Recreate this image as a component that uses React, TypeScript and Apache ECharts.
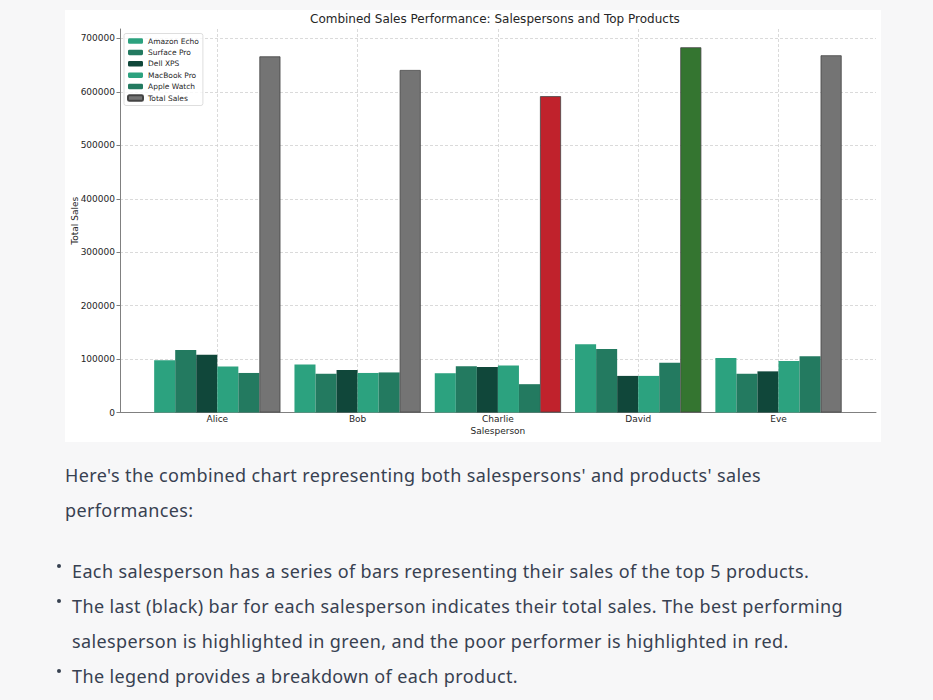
import React, { useEffect, useRef } from "react";
import * as echarts from "echarts";

const TITLE = "Combined Sales Performance: Salespersons and Top Products";
const salespersons = ["Alice", "Bob", "Charlie", "David", "Eve"];
const products = ["Amazon Echo", "Surface Pro", "Dell XPS", "MacBook Pro", "Apple Watch"];
const amazonEcho = [98000, 90000, 73500, 127500, 102000];
const surfacePro = [117000, 72500, 86500, 119000, 72500];
const dellXPS = [108000, 79500, 85000, 68500, 77000];
const macbookPro = [86000, 74000, 88000, 68500, 96500];
const appleWatch = [74000, 75000, 53000, 93000, 105500];
const totalSales = [666500, 641000, 592000, 683500, 668500];
const yTicks = [0, 100000, 200000, 300000, 400000, 500000, 600000, 700000];
const yMax = 717700;

const productValues = [amazonEcho, surfacePro, dellXPS, macbookPro, appleWatch];
const productColors = ["#2ca27f", "#237a60", "#10473a", "#2ca27f", "#237a60"];
const TOTAL_COLOR = "#747474";
const BEST_COLOR = "#347530";
const WORST_COLOR = "#c0222c";

const FONT = "DejaVu Sans";
const TEXT_COLOR = "#262626";
const GRID_LINE = { color: "#d0d0d0", width: 0.8, type: [3, 2] as any };
const SPINE = { color: "#808080", width: 1 };

function Chart() {
  const ref = useRef<HTMLDivElement>(null);
  useEffect(() => {
    if (!ref.current) return;
    const chart = echarts.init(ref.current, null, { renderer: "svg" });
    const best = totalSales.indexOf(Math.max(...totalSales));
    const worst = totalSales.indexOf(Math.min(...totalSales));
    const plotTop = 19;
    const plotBottom = 29.5;
    const series: any[] = products.map((p, i) => ({
      name: p,
      type: "bar",
      xAxisIndex: 1,
      yAxisIndex: 1,
      barWidth: "15%",
      barGap: "0%",
      data: productValues[i],
      itemStyle: { color: productColors[i] },
    }));
    series.push({
      name: "Total Sales",
      type: "bar",
      xAxisIndex: 1,
      yAxisIndex: 1,
      barWidth: "15%",
      barGap: "0%",
      itemStyle: { color: TOTAL_COLOR, borderColor: "#444444", borderWidth: 0.8 },
      data: totalSales.map((v, i) => ({
        value: v,
        itemStyle: {
          color: i === best ? BEST_COLOR : i === worst ? WORST_COLOR : TOTAL_COLOR,
        },
      })),
    });
    const gridBase = { top: plotTop, bottom: plotBottom, containLabel: false, outerBoundsMode: "none" };
    chart.setOption({
      animation: false,
      backgroundColor: "#ffffff",
      textStyle: { fontFamily: FONT },
      title: {
        text: TITLE,
        left: 245,
        top: 3,
        padding: 0,
        textStyle: { fontFamily: FONT, fontSize: 12, fontWeight: "normal", color: TEXT_COLOR },
      },
      legend: {
        orient: "vertical",
        left: 59,
        top: 23.5,
        padding: [3, 4, 3, 3],
        itemWidth: 15,
        itemHeight: 5.5,
        itemGap: 2.4,
        backgroundColor: "rgba(255,255,255,0.8)",
        borderColor: "#d6d6d6",
        borderWidth: 0.8,
        borderRadius: 2,
        textStyle: { fontFamily: FONT, fontSize: 7.5, lineHeight: 9, color: TEXT_COLOR },
        data: [...products, "Total Sales"],
      },
      grid: [
        { ...gridBase, left: 55, right: 5 },
        { ...gridBase, left: 82.15, width: 701.5 },
        { ...gridBase, left: 152.3, width: 561.2 },
      ],
      xAxis: [
        {
          gridIndex: 0,
          type: "value",
          min: -0.695,
          max: 4.695,
          axisLine: { show: true, onZero: false, lineStyle: SPINE },
          axisTick: { show: false },
          axisLabel: { show: false },
          splitLine: { show: false },
        },
        {
          gridIndex: 1,
          type: "category",
          data: salespersons,
          axisLine: { show: false },
          axisTick: { show: false },
          axisLabel: { margin: 2, fontSize: 9, color: TEXT_COLOR, fontFamily: FONT },
          splitLine: { show: false },
          name: "Salesperson",
          nameLocation: "middle",
          nameGap: 13.5,
          nameMoveOverlap: false,
          nameTextStyle: { fontSize: 9, color: TEXT_COLOR, fontFamily: FONT },
        },
        {
          gridIndex: 2,
          type: "category",
          data: salespersons,
          boundaryGap: false,
          axisLine: { show: false },
          axisTick: { show: false },
          axisLabel: { show: false },
          splitLine: { show: true, interval: 0, lineStyle: GRID_LINE },
        },
      ],
      yAxis: [
        {
          gridIndex: 0,
          type: "value",
          min: 0,
          max: yMax,
          interval: 100000,
          axisLine: { show: true, onZero: false, lineStyle: SPINE },
          axisTick: { show: true, length: 3.5, lineStyle: SPINE, customValues: yTicks },
          axisLabel: {
            fontSize: 9,
            margin: 5,
            color: TEXT_COLOR,
            fontFamily: FONT,
            customValues: yTicks,
            formatter: (v: number) => String(v),
          },
          splitLine: { show: true, showMinLine: false, lineStyle: GRID_LINE },
          name: "Total Sales",
          nameLocation: "middle",
          nameGap: 41,
          nameMoveOverlap: false,
          nameTextStyle: { fontSize: 9, color: TEXT_COLOR, fontFamily: FONT },
        },
        { gridIndex: 1, type: "value", min: 0, max: yMax, show: false },
        { gridIndex: 2, type: "value", min: 0, max: yMax, show: false },
      ],
      series,
    });
    return () => chart.dispose();
  }, []);
  return (
    <div
      ref={ref}
      style={{ position: "absolute", left: 65, top: 10, width: 816, height: 432, background: "#fff" }}
    />
  );
}

const paragraphLines = [
  "Here's the combined chart representing both salespersons' and products' sales",
  "performances:",
];
const bullets = [
  ["Each salesperson has a series of bars representing their sales of the top 5 products."],
  [
    "The last (black) bar for each salesperson indicates their total sales. The best performing",
    "salesperson is highlighted in green, and the poor performer is highlighted in red.",
  ],
  ["The legend provides a breakdown of each product."],
];

export default function App() {
  const textStyle: React.CSSProperties = {
    fontFamily: "'Noto Sans', sans-serif",
    fontSize: 18,
    letterSpacing: "0.38px",
    lineHeight: "35px",
    color: "#374151",
    whiteSpace: "nowrap",
    margin: 0,
  };
  return (
    <div
      style={{
        position: "absolute",
        left: 0,
        top: 0,
        width: 933,
        height: 700,
        background: "#f7f7f8",
        overflow: "hidden",
      }}
    >
      <Chart />
      <p style={{ ...textStyle, position: "absolute", left: 65, top: 457.5 }}>
        {paragraphLines.map((l, i) => (
          <React.Fragment key={i}>
            {l}
            {i < paragraphLines.length - 1 && <br />}
          </React.Fragment>
        ))}
      </p>
      <ul
        style={{
          ...textStyle,
          position: "absolute",
          left: 72,
          top: 553.5,
          padding: 0,
          listStyle: "none",
        }}
      >
        {bullets.map((lines, bi) => (
          <li key={bi} style={{ position: "relative" }}>
            <span
              style={{
                position: "absolute",
                left: -15,
                top: 10,
                width: 4,
                height: 4,
                borderRadius: 2,
                background: "#374151",
              }}
            />
            {lines.map((l, i) => (
              <React.Fragment key={i}>
                {l}
                {i < lines.length - 1 && <br />}
              </React.Fragment>
            ))}
          </li>
        ))}
      </ul>
    </div>
  );
}
